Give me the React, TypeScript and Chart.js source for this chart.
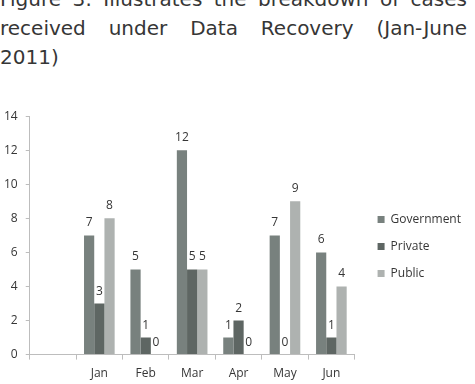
import React, { useEffect, useRef } from 'react';
import { Chart, registerables } from 'chart.js';

Chart.register(...registerables);

// Cases received under Data Recovery, Jan–June 2011
const months = ['', 'Jan', 'Feb', 'Mar', 'Apr', 'May', 'Jun'];
const government = [null, 7, 5, 12, 1, 7, 6];
const privateSector = [null, 3, 1, 5, 2, 0, 1];
const publicSector = [null, 8, 0, 5, 0, 9, 4];
const seriesNames = ['Government', 'Private', 'Public'];
const seriesColors = ['#78817e', '#5e6663', '#aeb2b0'];
const yMin = 0;
const yMax = 14;
const yStep = 2;

const titleLines = [
  'Figure 3: Illustrates the breakdown of cases',
  'received under Data Recovery (Jan-June',
  '2011)',
];

const TEXT = '#363636';
const AXIS = '#bdbdbd';
const FONT = '"Open Sans", "DejaVu Sans", sans-serif';

// Writes each bar's value just above its top
const valueLabels = {
  id: 'valueLabels',
  afterDatasetsDraw(chart: any) {
    const ctx = chart.ctx;
    ctx.save();
    ctx.font = `12px ${FONT}`;
    ctx.fillStyle = TEXT;
    ctx.textAlign = 'center';
    ctx.textBaseline = 'alphabetic';
    chart.data.datasets.forEach((ds: any, i: number) => {
      const meta = chart.getDatasetMeta(i);
      meta.data.forEach((bar: any, j: number) => {
        const v = ds.data[j];
        if (v === null || v === undefined) return;
        ctx.fillText(String(v), bar.x, bar.y - 9);
      });
    });
    ctx.restore();
  },
};

const CANVAS_W = 482;
const CANVAS_H = 291;

function BarChart() {
  const ref = useRef<HTMLCanvasElement>(null);

  useEffect(() => {
    if (!ref.current) return;
    const values = [government, privateSector, publicSector];
    const chart = new Chart(ref.current, {
      type: 'bar',
      data: {
        labels: months,
        datasets: values.map((data, i) => ({
          label: seriesNames[i],
          data,
          backgroundColor: seriesColors[i],
          borderWidth: 0,
          categoryPercentage: 0.66,
          barPercentage: 1,
        })),
      },
      options: {
        animation: false,
        responsive: false,
        maintainAspectRatio: false,
        layout: { padding: { left: 3, top: 0, right: 4, bottom: 4 } },
        plugins: {
          tooltip: { enabled: false },
          title: { display: false },
          legend: {
            position: 'right',
            align: 'center',
            maxWidth: 200,
            title: {
              display: true,
              text: ' ',
              font: { family: FONT, size: 4, lineHeight: 1 },
              padding: 0,
            },
            labels: {
              boxWidth: 7,
              boxHeight: 7,
              padding: 15,
              color: TEXT,
              font: { family: FONT, size: 12 },
            },
          },
        },
        scales: {
          x: {
            grid: {
              display: true,
              drawOnChartArea: false,
              drawTicks: true,
              tickLength: 5,
              offset: true,
              color: AXIS,
            },
            border: { display: true, color: AXIS, width: 1 },
            ticks: {
              padding: 7,
              color: TEXT,
              font: { family: FONT, size: 12 },
              maxRotation: 0,
            },
          },
          y: {
            min: yMin,
            max: yMax,
            grid: {
              display: true,
              drawOnChartArea: false,
              drawTicks: true,
              tickLength: 4,
              color: AXIS,
            },
            border: { display: true, color: AXIS, width: 1 },
            ticks: {
              stepSize: yStep,
              padding: 8,
              color: TEXT,
              font: { family: FONT, size: 12 },
            },
          },
          gap: {
            position: 'right',
            display: true,
            grid: { display: false },
            border: { display: false },
            ticks: { display: false },
            afterFit: (s: any) => {
              s.width = 8;
            },
          },
        },
      },
      plugins: [valueLabels],
    });
    return () => chart.destroy();
  }, []);

  return (
    <canvas
      ref={ref}
      width={CANVAS_W}
      height={CANVAS_H}
      style={{ position: 'absolute', left: -7, top: 101, width: CANVAS_W, height: CANVAS_H }}
    />
  );
}

export default function App() {
  return (
    <div
      style={{
        position: 'fixed',
        left: 0,
        top: 0,
        width: 475,
        height: 384,
        overflow: 'hidden',
        background: '#ffffff',
      }}
    >
      <div
        style={{
          position: 'absolute',
          left: 0,
          top: -15,
          width: 467,
          fontFamily: '"DejaVu Sans", sans-serif',
          fontSize: 20,
          lineHeight: '29px',
          color: TEXT,
        }}
      >
        {titleLines.map((line, i) => (
          <div
            key={i}
            style={{
              textAlign: 'justify',
              textAlignLast: i < titleLines.length - 1 ? 'justify' : 'left',
              whiteSpace: 'nowrap',
            }}
          >
            {line}
          </div>
        ))}
      </div>
      <BarChart />
    </div>
  );
}
